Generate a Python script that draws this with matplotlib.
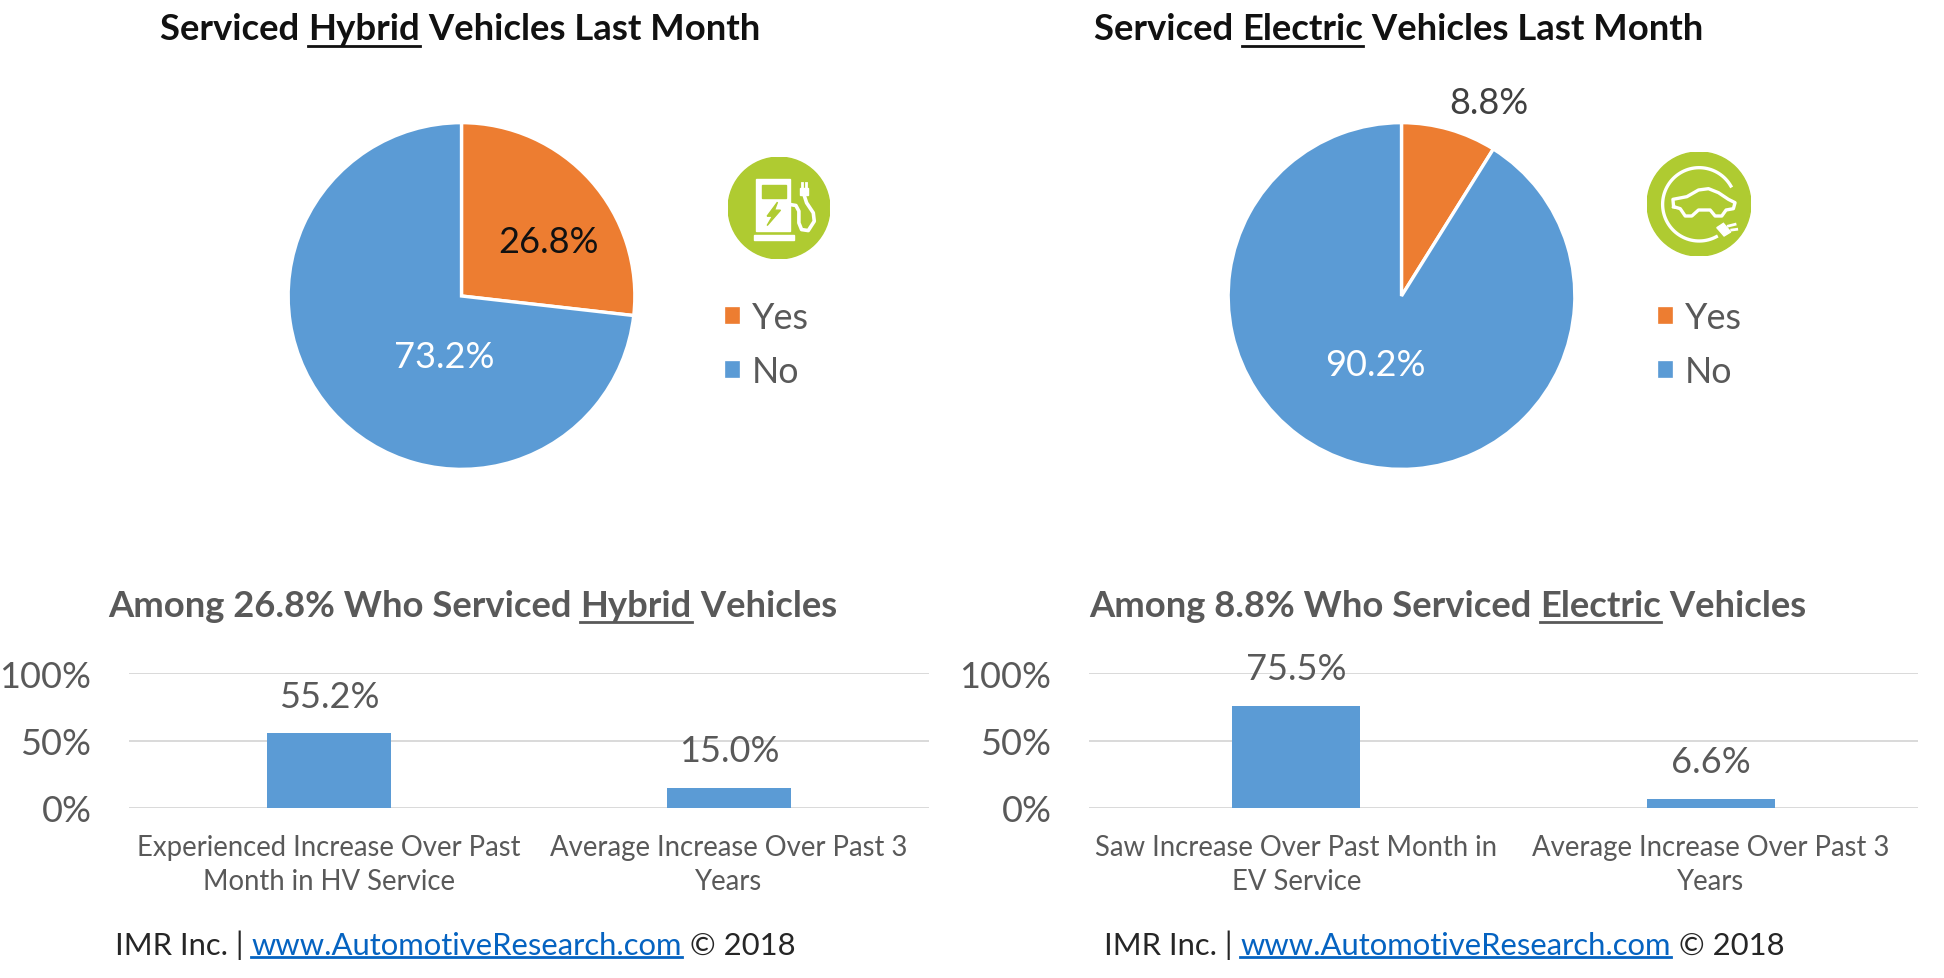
import numpy as np
import matplotlib
matplotlib.use("Agg")
import matplotlib.pyplot as plt
from matplotlib.patches import Circle, Rectangle, Polygon

W, H = 1944, 979

pie_labels = ["Yes", "No"]
hybrid_pie = [26.8, 73.2]
electric_pie = [8.8, 90.2]

hybrid_cats = ["Experienced Increase Over Past\nMonth in HV Service", "Average Increase Over Past 3\nYears"]
hybrid_vals = [55.2, 15.0]
electric_cats = ["Saw Increase Over Past Month in\nEV Service", "Average Increase Over Past 3\nYears"]
electric_vals = [75.5, 6.6]
y_ticks = [0, 50, 100]

ORANGE = "#ED7D31"
BLUE = "#5B9BD5"
GREEN = "#AFCB31"
GRAY = "#595959"
LINK = "#0563C1"

plt.rcParams["font.family"] = ["Lato", "DejaVu Sans"]

fig = plt.figure(figsize=(W / 100, H / 100), dpi=100)
renderer = fig.canvas.get_renderer()


def px_axes(x0, y0, x1, y1):
    # pixel box, y measured from the top of the image
    return fig.add_axes([x0 / W, 1 - y1 / H, (x1 - x0) / W, (y1 - y0) / H])


def text_width(s, **kw):
    # the dot stops trailing spaces being dropped from the measure
    a = fig.text(0, 0, s + ".", **kw)
    b = fig.text(0, 0, ".", **kw)
    w = a.get_window_extent(renderer).width - b.get_window_extent(renderer).width
    a.remove()
    b.remove()
    return w


def draw_runs(x, y, runs, under_y, under_lw=2.0, **kw):
    # text made of pieces, some of them coloured or underlined
    for s, color, under in runs:
        w = text_width(s, **kw)
        fig.text(x / W, 1 - y / H, s, color=color, va="baseline", ha="left", **kw)
        if under:
            fig.add_artist(plt.Line2D([x / W, (x + w) / W], [1 - under_y / H] * 2, color=color, lw=under_lw))
        x += w


def draw_pie(box, vals, legend_xy, label_pos, label_colors):
    ax = px_axes(*box)
    wedges, _ = ax.pie(vals, colors=[ORANGE, BLUE], startangle=90, counterclock=False,
                       wedgeprops=dict(edgecolor="white", linewidth=2.4))
    ax.set_xlim(-1.05, 1.05)
    ax.set_ylim(-1.05, 1.05)
    for v, (x, y), c in zip(vals, label_pos, label_colors):
        fig.text(x / W, 1 - y / H, f"{v:.1f}%", color=c, fontsize=26, ha="center", va="center")
    leg = ax.legend(wedges, pie_labels, loc="upper left", frameon=False, fontsize=25.8,
                    bbox_to_anchor=(legend_xy[0] / W, 1 - legend_xy[1] / H), bbox_transform=fig.transFigure,
                    borderaxespad=0, borderpad=0, handlelength=0.5, handleheight=0.5,
                    handletextpad=0.3, labelspacing=0.575, labelcolor=GRAY)
    return leg


def draw_bars(box, cats, vals):
    ax = px_axes(*box)
    ax.bar(range(len(vals)), vals, width=0.31, color=BLUE, zorder=3)
    ax.set_xlim(-0.5, 1.5)
    ax.set_ylim(0, 100)
    ax.set_yticks(y_ticks)
    ax.set_yticklabels([f"{t}%" for t in y_ticks])
    ax.set_xticks(range(len(cats)))
    ax.set_xticklabels(cats, linespacing=1.4)
    ax.tick_params(axis="y", length=0, pad=27, labelsize=26, labelcolor=GRAY)
    ax.tick_params(axis="x", length=0, pad=18.7, labelsize=19.8, labelcolor=GRAY)
    ax.grid(axis="y", color="#D9D9D9", lw=1.4, zorder=0)
    ax.set_axisbelow(True)
    for s in ax.spines.values():
        s.set_visible(False)
    ax.patch.set_alpha(0)
    ax.bar_label(ax.containers[0], labels=[f"{v:.1f}%" for v in vals], padding=15,
                 fontsize=26, color=GRAY)
    return ax


def pump_icon(box):
    # coordinates here are just the little picture, not data
    ax = px_axes(*box)
    ax.set_xlim(235, 540)
    ax.set_ylim(418, 113)
    ax.axis("off")
    ax.add_patch(Circle((387.5, 265.5), 152, color=GREEN))
    ax.add_patch(Rectangle((320, 178), 100, 157, color="white"))
    ax.add_patch(Rectangle((336, 197), 72, 38, color=GREEN))
    ax.add_patch(Polygon([(383, 248), (352, 290), (368, 290), (352, 318), (392, 272), (374, 272)], color=GREEN))
    ax.add_patch(Rectangle((313, 347), 119, 15, color="white"))
    hose_x = [420, 438, 447, 447, 455, 475, 493, 490, 470, 462]
    hose_y = [255, 258, 275, 310, 330, 333, 305, 280, 250, 225]
    ax.plot(hose_x, hose_y, color="white", lw=2.6, solid_capstyle="round")
    ax.add_patch(Rectangle((450, 207), 25, 20, color="white"))
    ax.plot([455, 455], [192, 207], color="white", lw=2)
    ax.plot([469, 469], [192, 207], color="white", lw=2)


def car_icon(box):
    ax = px_axes(*box)
    ax.set_xlim(80, 393)
    ax.set_ylim(410, 98)
    ax.axis("off")
    ax.add_patch(Circle((236.5, 254), 156, color=GREEN))
    t = np.radians(np.linspace(62, 330, 80))
    ax.plot(237 + 110 * np.cos(t), 255 + 110 * np.sin(t), color="white", lw=2.4)
    car_x = [160, 158, 200, 235, 265, 295, 325, 345, 340, 318, 305, 285, 270, 235, 215, 195, 180, 160]
    car_y = [262, 240, 232, 212, 208, 220, 240, 250, 268, 272, 290, 290, 272, 272, 290, 290, 268, 262]
    ax.plot(car_x, car_y, color="white", lw=2.4)
    ax.add_patch(Polygon([(290, 325), (310, 312), (332, 338), (312, 350)], color="white"))
    ax.plot([325, 345], [320, 315], color="white", lw=2)
    ax.plot([335, 350], [332, 330], color="white", lw=2)


# pies
draw_pie((461.5 - 182, 297 - 182, 461.5 + 182, 297 + 182), hybrid_pie, (723, 302),
         [(548, 243), (444, 358)], ["#111111", "white"])
draw_pie((1401.5 - 182, 297 - 182, 1401.5 + 182, 297 + 182), electric_pie, (1656, 302),
         [(1489, 103), (1375, 366)], ["#404040", "white"])

pump_icon((728, 158, 830, 260))
car_icon((1647, 153, 1751, 257))

# bars
draw_bars((129, 674, 929, 809), hybrid_cats, hybrid_vals)
draw_bars((1089, 674, 1918, 809), electric_cats, electric_vals)

# headings
top = dict(fontsize=26.3, fontweight="bold")
draw_runs(160, 40.5, [("Serviced ", "#111111", False), ("Hybrid", "#111111", True),
                      (" Vehicles Last Month", "#111111", False)], 47, **top)
draw_runs(1094, 40.5, [("Serviced ", "#111111", False), ("Electric", "#111111", True),
                       (" Vehicles Last Month", "#111111", False)], 47, **top)
sub = dict(fontsize=26.2, fontweight="bold")
draw_runs(108, 617, [("Among 26.8% Who Serviced ", GRAY, False), ("Hybrid", GRAY, True),
                     (" Vehicles", GRAY, False)], 623, **sub)
draw_runs(1089, 617, [("Among 8.8% Who Serviced ", GRAY, False), ("Electric", GRAY, True),
                      (" Vehicles", GRAY, False)], 623, **sub)

# footers
foot = dict(fontsize=22.3)
draw_runs(115, 955, [("IMR Inc. | ", "#262626", False), ("www.AutomotiveResearch.com", LINK, True),
                     (" © 2018", "#262626", False)], 958, **foot)
draw_runs(1104, 955, [("IMR Inc. | ", "#262626", False), ("www.AutomotiveResearch.com", LINK, True),
                      (" © 2018", "#262626", False)], 958, **foot)

fig.savefig("out.png", dpi=100)
